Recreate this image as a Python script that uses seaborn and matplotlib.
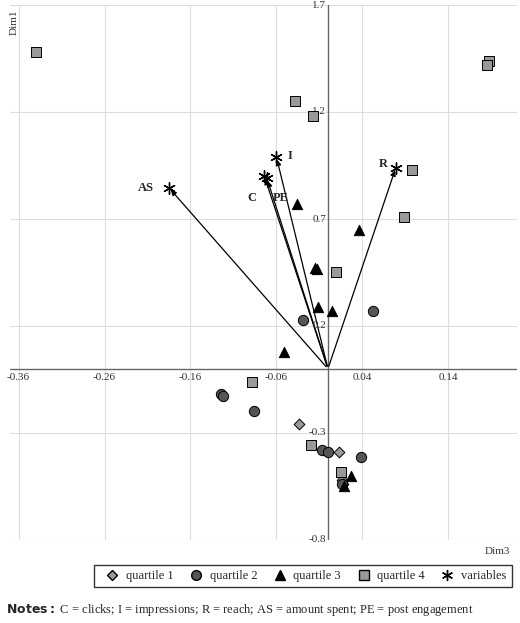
import seaborn as sns
import matplotlib.pyplot as plt
import pandas as pd
from matplotlib.lines import Line2D

# points (Dim3 = x, Dim1 = y)
q1_x = [-0.034, 0.013, 0.016, 0.017]
q1_y = [-0.26, -0.39, -0.52, -0.54]
q2_x = [-0.029, 0.053, -0.124, -0.122, -0.086, -0.007, 0.0, 0.038, 0.016]
q2_y = [0.23, 0.27, -0.12, -0.125, -0.196, -0.38, -0.39, -0.41, -0.54]
q3_x = [-0.036, 0.036, -0.015, -0.013, -0.012, 0.005, -0.051, 0.027, 0.019]
q3_y = [0.77, 0.65, 0.47, 0.465, 0.29, 0.27, 0.08, -0.50, -0.55]
q4_x = [-0.34, -0.038, -0.017, 0.187, 0.185, 0.098, 0.088, 0.009, -0.088, -0.020, 0.015]
q4_y = [1.48, 1.25, 1.18, 1.44, 1.42, 0.93, 0.71, 0.45, -0.06, -0.355, -0.48]
var_names = ['AS', 'I', 'C', 'PE', 'R']
var_x = [-0.185, -0.060, -0.074, -0.071, 0.079]
var_y = [0.846, 0.99, 0.90, 0.89, 0.94]
x_ticks = [-0.36, -0.26, -0.16, -0.06, 0.04, 0.14]
y_ticks = [1.7, 1.2, 0.7, 0.2, -0.3, -0.8]

sns.set_style('white')
plt.rcParams['font.family'] = ['Liberation Serif', 'DejaVu Serif']

fig = plt.figure(figsize=(5.2, 6.23), dpi=100)
ax = fig.add_axes([10/520, 83/623, 507/520, 535/623])
ax.set_xlim(-0.37, 0.22)
ax.set_ylim(-0.8, 1.7)
for s in ax.spines.values():
    s.set_visible(False)
ax.set_xticks([]); ax.set_yticks([])
for t in x_ticks:
    ax.axvline(t, color='#dddddd', lw=0.8, zorder=0)
    ax.text(t, -0.02, f'{t:.2f}'.replace('-0', '-0').replace('0.', '0.'), ha='center', va='top', fontsize=8, color='#333333')
for t in y_ticks:
    ax.axhline(t, color='#dddddd', lw=0.8, zorder=0)
    ax.text(-0.002, t, f'{t:g}', ha='right', va='center', fontsize=8, color='#333333')
ax.axhline(0, color='#666666', lw=1, zorder=1)
ax.axvline(0, color='#666666', lw=1, zorder=1)

for vx, vy in zip(var_x, var_y):
    ax.annotate('', xy=(vx, vy), xytext=(0, 0),
                arrowprops=dict(arrowstyle='-|>', color='black', lw=0.9, mutation_scale=8), zorder=2)

sns.scatterplot(x=q1_x, y=q1_y, marker='D', s=30, color='#999999', edgecolor='black', linewidth=0.7, ax=ax, zorder=3)
sns.scatterplot(x=q2_x, y=q2_y, marker='o', s=55, color='#555555', edgecolor='black', linewidth=0.7, ax=ax, zorder=3)
sns.scatterplot(x=q3_x, y=q3_y, marker='^', s=55, color='black', edgecolor='black', linewidth=0.7, ax=ax, zorder=3)
sns.scatterplot(x=q4_x, y=q4_y, marker='s', s=50, color='#999999', edgecolor='black', linewidth=0.7, ax=ax, zorder=3)
sns.scatterplot(x=var_x, y=var_y, marker=(6, 2, 0), s=70, color='black', linewidth=1.0, ax=ax, zorder=4)

labels = {'AS': (-0.212, 0.846), 'I': (-0.044, 0.995), 'C': (-0.088, 0.80), 'PE': (-0.055, 0.80), 'R': (0.064, 0.955)}
for n, (lx, ly) in labels.items():
    ax.text(lx, ly, n, fontsize=9, fontweight='bold', ha='center', va='center')

ax.text(-0.37, 1.62, 'Dim1', fontsize=8, color='#333333', rotation=90, va='center', ha='left')
fig.text(497/520, 1 - 552/623, 'Dim3', fontsize=8, color='#333333', ha='center', va='center')

handles = [
    Line2D([], [], marker='D', ls='', color='#999999', mec='black', ms=5, label='quartile 1'),
    Line2D([], [], marker='o', ls='', color='#555555', mec='black', ms=7, label='quartile 2'),
    Line2D([], [], marker='^', ls='', color='black', ms=7, label='quartile 3'),
    Line2D([], [], marker='s', ls='', color='#999999', mec='black', ms=7, label='quartile 4'),
    Line2D([], [], marker=(6, 2, 0), ls='', color='black', ms=8, label='variables'),
]
fig.legend(handles=handles, loc='center', bbox_to_anchor=(303/520, 1 - 576/623), ncol=5,
           fontsize=9, frameon=True, fancybox=False, edgecolor='black', handletextpad=0.1,
           columnspacing=0.8, borderpad=0.4)

fig.text(6/520, 1 - 610/623, r'$\bf{Notes:}$ C = clicks; I = impressions; R = reach; AS = amount spent; PE = post engagement',
         fontsize=9, ha='left', va='center')

fig.savefig('out.png', dpi=100)
